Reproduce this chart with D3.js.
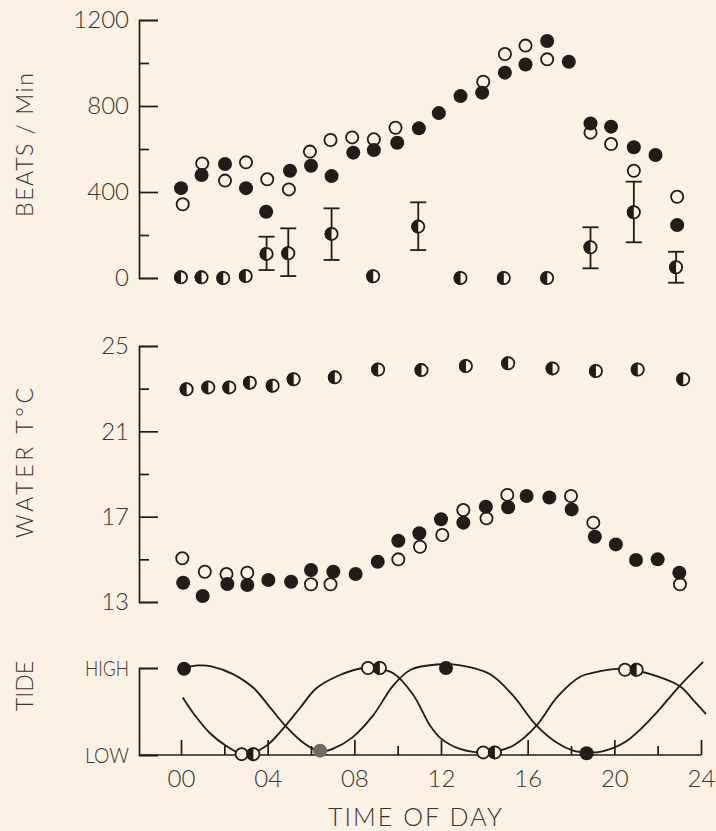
<!DOCTYPE html>
<html>
<head>
<meta charset="utf-8">
<script src="https://cdn.jsdelivr.net/npm/d3@7/dist/d3.min.js"></script>
<style>
  html, body { margin: 0; padding: 0; background: #fbf1e4; }
  svg { display: block; }
  text { font-family: Lato, "Open Sans", "DejaVu Sans", sans-serif; font-weight: 300; fill: #3b3330; }
</style>
</head>
<body>
<svg id="chart" width="716" height="831"></svg>
<script>
// ---------------- DATA ----------------
// Top panel: heart beats per minute, [hour, value]
const beatsFilled = [[0,418],[0.95,479],[2.03,530],[3,418],[3.93,308],[5.03,499],[6,522],[6.95,474],[7.95,583],[8.9,595],[9.98,629],[10.98,696],[11.9,767],[12.9,846],[13.9,862],[14.95,955],[15.9,993],[16.9,1102],[17.9,1006],[18.9,719],[19.85,704],[20.9,608],[21.9,572],[22.9,246]];
const beatsOpen = [[0.08,343],[0.98,533],[2.03,453],[3,538],[3.98,459],[4.98,412],[5.95,588],[6.9,642],[7.9,654],[8.9,645],[9.9,699],[13.95,913],[14.95,1042],[15.9,1081],[16.9,1017],[18.9,676],[19.85,623],[20.9,499],[22.9,378]];
// half-filled series: [hour, mean, low, high] (low/high null = no error bar)
const beatsHalf = [[0,3,null,null],[0.95,3,null,null],[1.95,0,null,null],[2.99,9,null,null],[3.95,112,37,192],[4.95,115,9,231],[6.95,205,84,324],[8.87,8,null,null],[10.95,239,130,352],[12.9,0,null,null],[14.9,0,null,null],[16.9,0,null,null],[18.9,143,45,236],[20.9,306,166,448],[22.85,50,-22,122]];
const beatsMajorTicks = [0,400,800,1200];
const beatsMinorTicks = [200,600,1000];

// Middle panel: water temperature °C, [hour, value]
const tempHalf = [[0.26,22.97],[1.26,23.06],[2.23,23.06],[3.18,23.28],[4.23,23.14],[5.2,23.44],[7.1,23.53],[9.1,23.9],[11.1,23.87],[13.15,24.06],[15.1,24.19],[17.15,23.95],[19.15,23.83],[21.08,23.9],[23.18,23.44]];
const tempFilled = [[0.1,13.9],[1,13.28],[2.14,13.84],[3.06,13.8],[4.03,14.03],[5.08,13.95],[6,14.5],[7.03,14.42],[8.06,14.31],[9.08,14.89],[10.03,15.87],[11,16.22],[12,16.88],[13.03,16.72],[14.07,17.47],[15.1,17.44],[15.95,17.97],[17,17.9],[18.03,17.34],[19.1,16.06],[20.07,15.7],[21,14.97],[22,15],[23,14.37]];
const tempOpen = [[0.06,15.05],[1.1,14.42],[2.1,14.31],[3.06,14.37],[6,13.83],[6.9,13.83],[10.03,15],[11.03,15.59],[12.06,16.14],[13.03,17.31],[14.1,16.92],[15.06,18.02],[18,17.97],[19.03,16.72],[23.03,13.83]];
const tempMajorTicks = [13,17,21,25];
const tempMinorTicks = [15,19,23];

// Bottom panel: tide level (0 = LOW, 1 = HIGH)
const tideCurveA = [[0.14,1.0],[0.8,1.03],[1.4,1.02],[2.4,0.93],[3.35,0.77],[4.1,0.55],[4.8,0.34],[5.5,0.17],[6.1,0.07],[6.5,0.04],[7.0,0.07],[7.9,0.2],[8.85,0.45],[9.8,0.8],[10.6,0.98],[11.8,1.04],[12.9,1.03],[14.25,0.93],[15.3,0.69],[16.4,0.34],[17.35,0.14],[18.1,0.05],[18.7,0.03],[19.4,0.04],[20.5,0.15],[21.7,0.42],[23.0,0.79],[24.1,1.07]];
const tideCurveB = [[0.08,0.66],[0.57,0.48],[1.34,0.25],[2.11,0.1],[2.72,0.02],[3.07,0.01],[3.96,0.11],[4.8,0.33],[5.49,0.54],[6.26,0.77],[7.34,0.92],[8.41,1.0],[8.9,1.0],[9.8,0.94],[10.72,0.69],[11.49,0.34],[11.95,0.2],[12.88,0.07],[14.2,0.03],[15.34,0.11],[16.42,0.34],[17.34,0.66],[18.42,0.9],[19.1,0.95],[20.18,0.99],[20.77,0.98],[22.03,0.9],[23.03,0.79],[23.72,0.61],[24.23,0.47]];
const tideFilled = [[0.14,0.99],[6.42,0.05],[12.23,1.0],[18.72,0.02]];
const tideOpen = [[2.8,0.01],[8.63,1.0],[13.95,0.03],[20.49,0.98]];
const tideHalf = [[3.34,0.01],[9.18,1.0],[14.49,0.03],[21.03,0.98]];
const tideTicks = [0,1];
const tideTickLabels = ["LOW","HIGH"];
const hourMajorTicks = [0,4,8,12,16,20,24];
const hourMinorTicks = [2,6,10,14,18,22];

// ---------------- DRAWING ----------------
const INK = "#231b17", BG = "#fbf1e4";
const svg = d3.select("#chart");
svg.append("rect").attr("width",716).attr("height",831).attr("fill",BG);

const axisX = 139;
const x = d3.scaleLinear().domain([0,24]).range([181,701]);
const yBeats = d3.scaleLinear().domain([0,1200]).range([278,20]);
const yTemp = d3.scaleLinear().domain([13,25]).range([602,346]);
const yTide = d3.scaleLinear().domain([0,1]).range([755,668]);

function styleAxis(g, fs){
  g.selectAll("path, line").attr("stroke",INK).attr("stroke-width",1.7);
  g.selectAll("text").attr("font-size",fs || 24).attr("fill","#3b3330")
    .attr("font-family","Lato, 'Open Sans', sans-serif").attr("font-weight",300);
}
function leftAxis(scale, major, minor, fmt, fs){
  const g = svg.append("g").attr("transform",`translate(${axisX},0)`);
  g.call(d3.axisLeft(scale).tickValues(major).tickSize(-19).tickPadding(10).tickFormat(fmt));
  styleAxis(g, fs);
  if (minor) {
    const m = svg.append("g").attr("transform",`translate(${axisX},0)`);
    m.call(d3.axisLeft(scale).tickValues(minor).tickSize(-10).tickSizeOuter(0).tickFormat(""));
    m.select(".domain").remove();
    styleAxis(m);
  }
  return g;
}
leftAxis(yBeats, beatsMajorTicks, beatsMinorTicks, d3.format("d"));
leftAxis(yTemp, tempMajorTicks, tempMinorTicks, d3.format("d"));
const gTide = leftAxis(yTide, tideTicks, null, (d,i)=>tideTickLabels[i], 22);
gTide.selectAll(".tick text").attr("textLength",44).attr("lengthAdjust","spacingAndGlyphs");

// bottom time axis
svg.append("line").attr("x1",axisX).attr("x2",x(24)).attr("y1",yTide(0)).attr("y2",yTide(0))
  .attr("stroke",INK).attr("stroke-width",1.7);
const gx = svg.append("g").attr("transform",`translate(0,${yTide(0)})`);
gx.call(d3.axisBottom(x).tickValues(hourMajorTicks).tickSize(-15).tickPadding(15).tickFormat(d3.format("02d")));
gx.select(".domain").remove();
styleAxis(gx);
const gx2 = svg.append("g").attr("transform",`translate(0,${yTide(0)})`);
gx2.call(d3.axisBottom(x).tickValues(hourMinorTicks).tickSize(-9).tickFormat(""));
gx2.select(".domain").remove();
styleAxis(gx2);

// titles
function vTitle(txt, cy, len){
  const t = svg.append("text").attr("transform",`translate(33,${cy}) rotate(-90)`)
    .attr("text-anchor","middle").attr("font-size",23).text(txt);
  if (len) t.attr("textLength",len).attr("lengthAdjust","spacing");
}
vTitle("BEATS / Min", 145, 144);
vTitle("WATER T°C", 463, 150);
vTitle("TIDE", 686, null);
svg.append("text").attr("x",415).attr("y",826).attr("text-anchor","middle")
  .attr("font-size",25).attr("textLength",174).attr("lengthAdjust","spacing").text("TIME OF DAY");

// markers
const R = 7;
function openMarks(data, ys){
  svg.append("g").selectAll("circle").data(data).join("circle")
    .attr("cx",d=>x(d[0])).attr("cy",d=>ys(d[1])).attr("r",R-0.9)
    .attr("fill",BG).attr("stroke",INK).attr("stroke-width",1.8);
}
function filledMarks(data, ys, grayIdx){
  svg.append("g").selectAll("circle").data(data).join("circle")
    .attr("cx",d=>x(d[0])).attr("cy",d=>ys(d[1])).attr("r",R)
    .attr("fill",(d,i)=> i===grayIdx ? "#6f6a66" : INK);
}
function halfMarks(data, ys){
  const g = svg.append("g").selectAll("g").data(data).join("g")
    .attr("transform",d=>`translate(${x(d[0])},${ys(d[1])})`);
  g.append("circle").attr("r",R-0.9).attr("fill",BG).attr("stroke",INK).attr("stroke-width",1.8);
  g.append("path").attr("d",`M0,${-R}A${R},${R} 0 0 0 0,${R}Z`).attr("fill",INK);
}

// top panel
const eb = svg.append("g").attr("stroke",INK).attr("stroke-width",1.8);
beatsHalf.filter(d=>d[2]!==null).forEach(d=>{
  const cx = x(d[0]);
  eb.append("line").attr("x1",cx).attr("x2",cx).attr("y1",yBeats(d[2])).attr("y2",yBeats(d[3]));
  eb.append("line").attr("x1",cx-8).attr("x2",cx+8).attr("y1",yBeats(d[2])).attr("y2",yBeats(d[2]));
  eb.append("line").attr("x1",cx-8).attr("x2",cx+8).attr("y1",yBeats(d[3])).attr("y2",yBeats(d[3]));
});
openMarks(beatsOpen, yBeats);
filledMarks(beatsFilled, yBeats);
halfMarks(beatsHalf, yBeats);

// middle panel
openMarks(tempOpen, yTemp);
filledMarks(tempFilled, yTemp);
halfMarks(tempHalf, yTemp);

// tide panel
const line = d3.line().x(d=>x(d[0])).y(d=>yTide(d[1])).curve(d3.curveCatmullRom.alpha(0.5));
svg.append("path").attr("d",line(tideCurveA)).attr("fill","none").attr("stroke",INK).attr("stroke-width",1.8);
svg.append("path").attr("d",line(tideCurveB)).attr("fill","none").attr("stroke",INK).attr("stroke-width",1.8);
openMarks(tideOpen, yTide);
halfMarks(tideHalf, yTide);
filledMarks(tideFilled, yTide, 1);
</script>
</body>
</html>
